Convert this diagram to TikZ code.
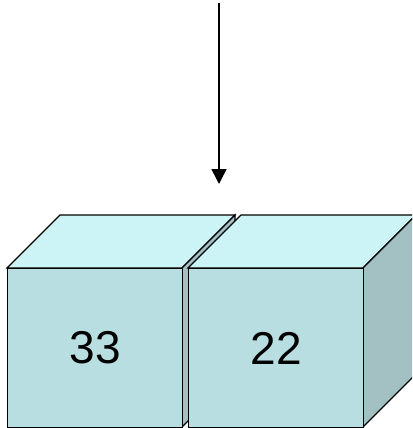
\documentclass[tikz,border=0pt]{standalone}
\usepackage{fontspec}
\setmainfont{Liberation Sans}
\usetikzlibrary{arrows.meta}
\definecolor{frontc}{HTML}{B8DEE1}
\definecolor{topc}{HTML}{CCF4F6}
\definecolor{sidec}{HTML}{A3C1C3}
\begin{document}
\begin{tikzpicture}[x=1pt,y=-1pt,
  face/.style={draw=black,line width=1.2pt,line join=miter},
  frontface/.style={face,fill=frontc,minimum width=175pt,minimum height=159pt,inner sep=0pt,anchor=north west,font=\fontsize{46}{50}\selectfont}]
\useasboundingbox (0,0) rectangle (412,428);
\clip (0,0) rectangle (412,428);
% cube 1
\filldraw[face,fill=topc] (7,268) -- (60,215) -- (235,215) -- (182,268) -- cycle;
\filldraw[face,fill=sidec] (182,268) -- (235,215) -- (235,374) -- (182,427) -- cycle;
\node[frontface] (c1) at (7,268) {33};
% cube 2
\filldraw[face,fill=topc] (188,268) -- (241,215) -- (416,215) -- (363,268) -- cycle;
\filldraw[face,fill=sidec] (363,268) -- (416,215) -- (416,374) -- (363,427) -- cycle;
\node[frontface] (c2) at (188,268) {22};
% arrow
\coordinate (a0) at (219,3);
\coordinate (a1) at (219,184);
\draw[line width=1.5pt,-{Triangle[width=15pt,length=15pt]}] (a0) -- (a1);
\end{tikzpicture}
\end{document}
